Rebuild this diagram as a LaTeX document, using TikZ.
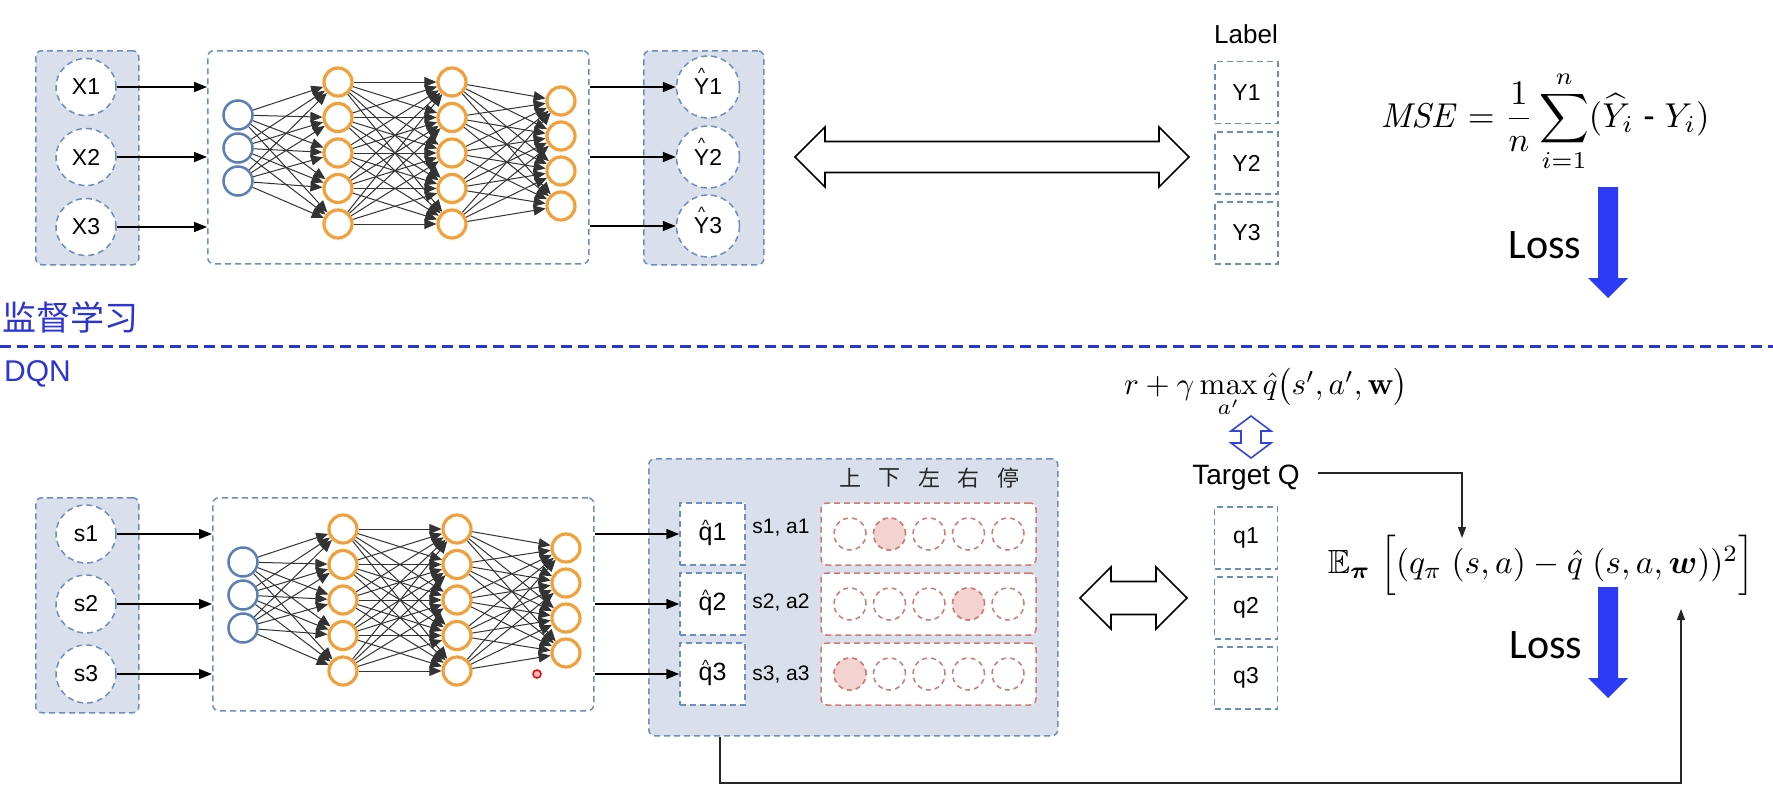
\documentclass[tikz,border=0pt]{standalone}
\usepackage{amsmath,amssymb,bm}
\usepackage[no-math]{fontspec}
\setmainfont{Liberation Sans}
\newfontfamily\cjk{Noto Sans CJK SC}
\newfontfamily\calib{Carlito}
\usetikzlibrary{arrows.meta,calc,shapes.geometric}

\definecolor{boxfill}{HTML}{DAE0EB}
\definecolor{boxline}{HTML}{6C8EBF}
\definecolor{orangeN}{HTML}{F2A13A}
\definecolor{blueN}{HTML}{5B7FB5}
\definecolor{redline}{HTML}{CF7A73}
\definecolor{redfill}{HTML}{F3D3CF}
\definecolor{secblue}{HTML}{2C34D4}
\definecolor{lossblue}{HTML}{2C3CF4}
\definecolor{dblue}{HTML}{3344DD}

\newcommand{\hatc}[3]{\makebox[0pt][l]{\makebox[#2][c]{\smash{\raisebox{#1}{\fontsize{15}{15}\selectfont\textasciicircum}}}}#3}

\tikzset{
  dsh/.style={dash pattern=on 6pt off 4pt, line width=1.5pt},
  container/.style={draw=boxline, dsh, rounded corners=6pt, fill=boxfill, inner sep=0pt},
  nnbox/.style={draw=boxline, dsh, rounded corners=6pt, fill=white, inner sep=0pt},
  inell/.style={ellipse, draw=boxline, dsh, fill=white, minimum width=60pt, minimum height=57pt, inner sep=0pt, font=\fontsize{23}{23}\selectfont},
  lbox/.style={rectangle, draw=boxline, dsh, fill=white, minimum width=63pt, minimum height=62pt, inner sep=0pt, font=\fontsize{23}{23}\selectfont},
  rbox/.style={rectangle, draw=redline, dsh, rounded corners=6pt, fill=white, minimum width=215pt, minimum height=62pt, inner sep=0pt},
  rcirc/.style={circle, draw=redline, dash pattern=on 5pt off 4pt, line width=1.5pt, minimum size=32pt, inner sep=0pt},
  bneur/.style={circle, draw=blueN, line width=2.5pt, fill=white, minimum size=29pt, inner sep=0pt},
  oneur/.style={circle, draw=orangeN, line width=3.2pt, fill=white, minimum size=28pt, inner sep=0pt},
  conn/.style={draw=black!80, line width=1pt, -{Triangle[length=12pt,width=10pt]}},
  inarr/.style={draw=black, line width=1.5pt, -{Triangle[length=13pt,width=10pt]}},
  thinarr/.style={draw=black!85, line width=1.2pt, -{Triangle[length=11pt,width=8pt]}},
  dbl/.style={draw=black, line width=1.6pt, fill=white, line join=miter},
}

\newcommand{\nnet}[3]{%
  \node[nnbox, anchor=north west, minimum width=381pt, minimum height=213pt] (#1box) at (#2,#3) {};
  \foreach \k/\yy in {1/65,2/98,3/131} \node[bneur] (#1b\k) at (#2+31,#3+\yy) {};
  \foreach \k/\yy in {1/32,2/67.5,3/103,4/138.5,5/174} {
    \node[oneur] (#1a\k) at (#2+131,#3+\yy) {};
    \node[oneur] (#1c\k) at (#2+245,#3+\yy) {};
  }
  \foreach \k/\yy in {1/51,2/86,3/121,4/156} \node[oneur] (#1d\k) at (#2+354,#3+\yy) {};
  \foreach \i in {1,2,3} \foreach \j in {1,...,5} \draw[conn] (#1b\i) -- (#1a\j);
  \foreach \i in {1,...,5} \foreach \j in {1,...,5} \draw[conn] (#1a\i) -- (#1c\j);
  \foreach \i in {1,...,5} \foreach \j in {1,...,4} \draw[conn] (#1c\i) -- (#1d\j);
}

\begin{document}
\begin{tikzpicture}[x=1pt,y=-1pt]
\fill[white] (0,0) rectangle (1773,796);
\useasboundingbox (0,0) rectangle (1773,796);

% ================= top: supervised learning =================
\node[container, anchor=north west, minimum width=103pt, minimum height=214pt] (xbox) at (35,50) {};
\node[inell] (x1) at (86,87) {X1};
\node[inell] (x2) at (86,157) {X2};
\node[inell] (x3) at (86,227) {X3};

\nnet{t}{207}{50}

\foreach \k in {1,2,3} \draw[inarr] (x\k) -- (x\k -| tbox.west);

\node[container, anchor=north west, minimum width=120pt, minimum height=214pt] (yhbox) at (643,50) {};
\node[inell, minimum width=63pt, minimum height=62pt] (yh1) at (708,87) {\hatc{16.5pt}{0.667em}{Y}1};
\node[inell, minimum width=63pt, minimum height=62pt] (yh2) at (708,157) {\hatc{16.5pt}{0.667em}{Y}2};
\node[inell, minimum width=63pt, minimum height=62pt] (yh3) at (708,226) {\hatc{16.5pt}{0.667em}{Y}3};
\foreach \k in {1,2,3} \draw[inarr] (tbox.east |- yh\k) -- (yh\k);

% big double arrow (top)
\draw[dbl] (795,157) -- (825,127) -- (825,141.5) -- (1159,141.5) -- (1159,127) -- (1189,157)
  -- (1159,187) -- (1159,172.5) -- (825,172.5) -- (825,187) -- cycle;

\node[font=\fontsize{26}{26}\selectfont, inner sep=0pt] (label) at (1246,34) {Label};
\node[lbox] (l1) at (1246.5,92.5) {Y1};
\node[lbox] (l2) at (1246.5,163) {Y2};
\node[lbox] (l3) at (1246.5,233) {Y3};

\node[scale=3.45, inner sep=0pt] (mse) at (1545,121) {$\displaystyle \mathit{MSE}=\frac{1}{n}\sum_{i=1}^{n}(\widehat{Y}_{i}\ \text{-}\ Y_{i})$};

\node[font=\calib\fontsize{42}{42}\selectfont, inner sep=0pt] (loss1) at (1545,245) {Loss};
\fill[lossblue] (1598,187) -- (1618,187) -- (1618,278) -- (1628,278) -- (1608,298) -- (1588,278) -- (1598,278) -- cycle;

% ================= divider =================
\node[anchor=west, text=secblue, font=\cjk\fontsize{34}{34}\selectfont, inner sep=0pt] (sup) at (2,317) {监督学习};
\draw[secblue, line width=3pt, dash pattern=on 11pt off 6pt] (0,346) -- (1773,346);
\node[anchor=west, text=secblue, font=\fontsize{30}{30}\selectfont, inner sep=0pt] (dqn) at (4,374) {DQN};

% ================= bottom: DQN =================
\node[container, anchor=north west, minimum width=103pt, minimum height=215pt] (sbox) at (35,497) {};
\node[inell, minimum height=58pt] (s1) at (86,534) {s1};
\node[inell, minimum height=58pt] (s2) at (86,604) {s2};
\node[inell, minimum height=58pt] (s3) at (86,674) {s3};

\nnet{b}{212}{497}

\foreach \k in {1,2,3} \draw[inarr] (s\k) -- (s\k -| bbox.west);

\node[circle, draw=red, line width=1.5pt, fill=red!25, minimum size=8pt, inner sep=0pt] (cursor) at (537,674) {};

\node[container, anchor=north west, minimum width=409pt, minimum height=277pt] (qbig) at (648,458) {};
\node[lbox, minimum width=65pt, font=\fontsize{25}{25}\selectfont] (qh1) at (712.5,534) {\hatc{10pt}{0.556em}{q}1};
\node[lbox, minimum width=65pt, font=\fontsize{25}{25}\selectfont] (qh2) at (712.5,604) {\hatc{10pt}{0.556em}{q}2};
\node[lbox, minimum width=65pt, font=\fontsize{25}{25}\selectfont] (qh3) at (712.5,674) {\hatc{10pt}{0.556em}{q}3};
\foreach \k in {1,2,3} \draw[inarr] (bbox.east |- qh\k) -- (qh\k);

\node[font=\fontsize{21}{21}\selectfont, inner sep=0pt] (sa1) at (781,528) {s1, a1};
\node[font=\fontsize{21}{21}\selectfont, inner sep=0pt] (sa2) at (781,603) {s2, a2};
\node[font=\fontsize{21}{21}\selectfont, inner sep=0pt] (sa3) at (781,675) {s3, a3};

\node[rbox] (r1) at (928.5,534) {};
\node[rbox] (r2) at (928.5,604) {};
\node[rbox] (r3) at (928.5,674) {};
\foreach \ch/\xx in {上/850,下/889.5,左/929,右/968.5,停/1008}
  \node[font=\cjk\fontsize{22}{22}\selectfont, text=black!85, inner sep=0pt] at (\xx,478) {\ch};
\foreach \r/\yy in {1/534,2/604,3/674}
  \foreach \k/\xx in {1/850,2/889.5,3/929,4/968.5,5/1008}
    \node[rcirc] (r\r c\k) at (\xx,\yy) {};
\node[rcirc, fill=redfill] at (r1c2) {};
\node[rcirc, fill=redfill] at (r2c4) {};
\node[rcirc, fill=redfill] at (r3c1) {};

% bottom double arrow
\draw[dbl] (1080,598) -- (1111,567) -- (1111,581.5) -- (1156,581.5) -- (1156,567) -- (1187,598)
  -- (1156,629) -- (1156,614.5) -- (1111,614.5) -- (1111,629) -- cycle;

\node[font=\fontsize{28}{28}\selectfont, inner sep=0pt] (tq) at (1246,478) {Target Q};
\node[lbox] (q1) at (1246,538) {q1};
\node[lbox] (q2) at (1246,608) {q2};
\node[lbox] (q3) at (1246,678) {q3};

\node[scale=3.1, inner sep=0pt] (tgt) at (1266,393) {$r+\gamma\max\limits_{a'}\hat{q}\big(s',a',\mathbf{w}\big)$};

% small blue vertical double arrow
\draw[draw=dblue, line width=1.6pt, fill=white, line join=miter]
  (1251,416) -- (1271,431) -- (1261,431) -- (1261,443) -- (1271,443) -- (1251,458)
  -- (1231,443) -- (1241,443) -- (1241,431) -- (1231,431) -- cycle;

\node[scale=3.35, inner sep=0pt] (ef) at (1541,565) {$\mathbb{E}_{\boldsymbol{\pi}}\;\Big[(q_{\pi}\;(s,a)-\hat{q}\;(s,a,\boldsymbol{w}))^{2}\Big]$};

\coordinate (etop) at (1462,538);
\draw[thinarr] ([xshift=18pt,yshift=5pt]tq.east) -| (etop);

\node[font=\calib\fontsize{42}{42}\selectfont, inner sep=0pt] (loss2) at (1546,645) {Loss};
\fill[lossblue] (1598,587) -- (1618,587) -- (1618,678) -- (1628,678) -- (1608,698) -- (1588,678) -- (1598,678) -- cycle;

\coordinate (fbs) at ($(qbig.south west)+(72,0)$);
\coordinate (fbc) at (1681,783);
\coordinate (ebot) at (1681,609);
\draw[thinarr] (fbs) |- (fbc) -- (ebot);
\end{tikzpicture}
\end{document}
